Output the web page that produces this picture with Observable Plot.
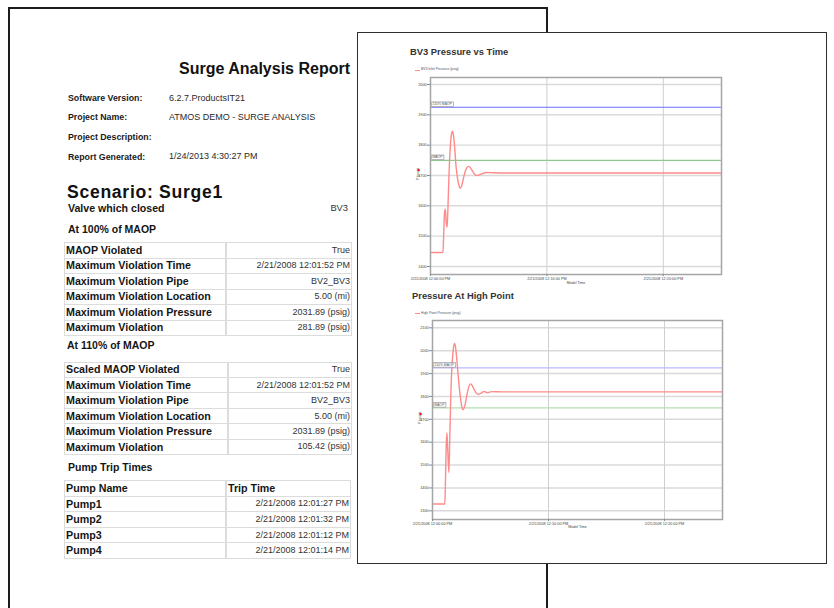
<!DOCTYPE html>
<html><head><meta charset="utf-8">
<script src="https://cdn.jsdelivr.net/npm/d3@7"></script>
<script src="https://cdn.jsdelivr.net/npm/@observablehq/plot@0.6"></script>
<style>
html,body{margin:0;padding:0;background:#fff;}
#root{position:relative;width:834px;height:608px;overflow:hidden;font-family:"Liberation Sans",Arial,sans-serif;}
.abs{position:absolute;white-space:nowrap;}
svg{position:absolute;overflow:visible;}
</style></head><body><div id="root"></div>
<script>
// ---------- data ----------
const reportTitle = "Surge Analysis Report";
const metaLabels = ["Software Version:", "Project Name:", "Project Description:", "Report Generated:"];
const metaValues = ["6.2.7.ProductsIT21", "ATMOS DEMO - SURGE ANALYSIS", "", "1/24/2013 4:30:27 PM"];
const scenarioTitle = "Scenario: Surge1";
const valveLabel = "Valve which closed";
const valveValue = "BV3";
const table100Title = "At 100% of MAOP";
const table100Labels = ["MAOP Violated", "Maximum Violation Time", "Maximum Violation Pipe", "Maximum Violation Location", "Maximum Violation Pressure", "Maximum Violation"];
const table100Values = ["True", "2/21/2008 12:01:52 PM", "BV2_BV3", "5.00 (mi)", "2031.89 (psig)", "281.89 (psig)"];
const table110Title = "At 110% of MAOP";
const table110Labels = ["Scaled MAOP Violated", "Maximum Violation Time", "Maximum Violation Pipe", "Maximum Violation Location", "Maximum Violation Pressure", "Maximum Violation"];
const table110Values = ["True", "2/21/2008 12:01:52 PM", "BV2_BV3", "5.00 (mi)", "2031.89 (psig)", "105.42 (psig)"];
const pumpTitle = "Pump Trip Times";
const pumpHeader = ["Pump Name", "Trip Time"];
const pumpNames = ["Pump1", "Pump2", "Pump3", "Pump4"];
const pumpTimes = ["2/21/2008 12:01:27 PM", "2/21/2008 12:01:32 PM", "2/21/2008 12:01:12 PM", "2/21/2008 12:01:14 PM"];

const chart1Title = "BV3 Pressure vs Time";
const chart1Legend = "BV3 Inlet Pressure (psig)";
const chart2Title = "Pressure At High Point";
const chart2Legend = "High Point Pressure (psig)";
const xLabel = "Model Time";
const yLabel = "P (psig)";
const maop = 1750;
const maop110 = 1925;
const refLines = [{label: "110% MAOP", value: maop110}, {label: "MAOP", value: maop}];
const xTickMinutes = [0, 10, 20];
const xTickLabels = ["2/21/2008 12:00:00 PM", "2/21/2008 12:10:00 PM", "2/21/2008 12:20:00 PM"];
const xEndMinutes = 25;
const yTicks1 = [1400, 1500, 1600, 1700, 1800, 1900, 2000];
const yTicks2 = [1300, 1400, 1500, 1600, 1700, 1800, 1900, 2000, 2100];

// minutes after 12:00:00, pressure psig
const bv3Minutes  = [0, 1.07, 1.12, 1.2, 1.27, 1.35, 1.43, 1.52, 1.62, 1.72, 1.82, 1.89, 1.97, 2.08, 2.2, 2.35, 2.48, 2.58, 2.72, 2.9, 3.1, 3.29, 3.5, 3.75, 4.0, 4.3, 4.8, 5.3, 7, 25];
const bv3Pressure = [1446, 1446, 1490, 1575, 1590, 1545, 1530, 1620, 1735, 1805, 1840, 1846, 1834, 1790, 1728, 1684, 1663, 1658, 1672, 1702, 1724, 1730, 1721, 1706, 1700, 1704, 1710, 1709, 1708, 1708];
const hpMinutes  = [0, 1.06, 1.1, 1.18, 1.24, 1.32, 1.41, 1.5, 1.6, 1.7, 1.8, 1.9, 1.98, 2.1, 2.25, 2.42, 2.54, 2.64, 2.8, 3.0, 3.15, 3.3, 3.5, 3.72, 3.94, 4.2, 4.45, 4.74, 5.1, 6, 25];
const hpPressure = [1330, 1330, 1390, 1580, 1641, 1560, 1467, 1640, 1840, 1950, 2010, 2031.89, 2018, 1960, 1870, 1790, 1752, 1742, 1762, 1815, 1846, 1855, 1840, 1818, 1809, 1815, 1822, 1816, 1821, 1820, 1820];

// ---------- helpers ----------
const root = document.getElementById("root");
function put(parent, s, x, base, size, o = {}) {
  const el = document.createElement("div");
  el.className = "abs";
  el.textContent = s;
  el.style.fontSize = size + "px";
  el.style.lineHeight = size + "px";
  el.style.top = (base - 0.8465 * size) + "px";
  el.style.fontWeight = o.weight || 400;
  el.style.color = o.color || "#222";
  if (o.ls) el.style.letterSpacing = o.ls + "px";
  if (o.anchor === "end") { el.style.left = (x - 600) + "px"; el.style.width = "600px"; el.style.textAlign = "right"; }
  else el.style.left = x + "px";
  parent.appendChild(el);
  return el;
}
function box(parent, x, y, w, h, css) {
  const el = document.createElement("div");
  el.style.position = "absolute";
  el.style.left = x + "px"; el.style.top = y + "px";
  el.style.width = w + "px"; el.style.height = h + "px";
  el.style.boxSizing = "border-box";
  Object.assign(el.style, css);
  parent.appendChild(el);
  return el;
}
function table(labels, values, x0, xd, x1, top, rowH, header) {
  labels.forEach((lab, i) => {
    const y = top + i * rowH;
    box(root, x0, y, xd - x0, rowH + 1, {border: "1px solid #dcdcdc"});
    box(root, xd, y, x1 - xd, rowH + 1, {border: "1px solid #dcdcdc"});
    const c = y + rowH / 2 + 0.5;
    put(root, lab, x0 + 2, c + 3.8, 10.7, {weight: 700, color: "#151515"});
    if (header && i === 0) put(root, values[i], xd + 2, c + 3.8, 10.7, {weight: 700, color: "#151515"});
    else put(root, values[i], x1 - 2, c + 3.2, 9, {color: "#333", anchor: "end"});
  });
}

// ---------- left page ----------
box(root, 8, 7, 540, 700, {border: "2px solid #1c1c1c", background: "#fff"});
put(root, reportTitle, 179, 75, 16, {weight: 700, color: "#111"});
const metaBases = [101.2, 120.6, 140.3, 160];
metaLabels.forEach((l, i) => {
  put(root, l, 68, metaBases[i], 8.8, {weight: 700, color: "#1a1a1a"});
  put(root, metaValues[i], 169, metaBases[i], 9, {color: "#2a2a2a"});
});
put(root, scenarioTitle, 67, 199.3, 17.6, {weight: 700, color: "#111", ls: 0.7});
put(root, valveLabel, 68, 212.3, 10.6, {weight: 700, color: "#151515"});
put(root, valveValue, 348, 212.3, 9.3, {color: "#333", anchor: "end"});
put(root, table100Title, 68, 233, 10.5, {weight: 700, color: "#151515"});
table(table100Labels, table100Values, 64, 226, 352, 242, 15.5);
put(root, table110Title, 67, 349, 10.5, {weight: 700, color: "#151515"});
table(table110Labels, table110Values, 64, 228, 352, 361.5, 15.42);
put(root, pumpTitle, 68, 471, 10.5, {weight: 700, color: "#151515"});
table([pumpHeader[0], ...pumpNames], [pumpHeader[1], ...pumpTimes], 64, 226, 351, 480, 15.6, true);

// ---------- right page ----------
box(root, 357, 32, 470, 532, {border: "1.5px solid #2e2e2e", background: "#fff"});

const t0 = new Date(2008, 1, 21, 12, 0, 0);
const toDate = m => new Date(t0.getTime() + m * 60000);

function makeChart(cfg) {
  const data = cfg.minutes.map((m, i) => ({t: toDate(m), p: cfg.pressure[i]}));
  const xt = xTickMinutes.map(toDate);
  const fmt = d => xTickLabels[xTickMinutes.indexOf(Math.round((d - t0) / 60000))];
  const svg = Plot.plot({
    width: cfg.width, height: cfg.height,
    marginLeft: cfg.ml, marginRight: cfg.mr, marginTop: cfg.mt, marginBottom: cfg.mb,
    style: {fontFamily: "Liberation Sans, Arial, sans-serif", fontSize: "3.8px", color: "#444", background: "transparent", overflow: "visible"},
    x: {type: "time", domain: [toDate(0), toDate(xEndMinutes)]},
    y: {domain: cfg.yDomain},
    marks: [
      Plot.gridY(cfg.yTicks, {stroke: "#dadada", strokeOpacity: 1, strokeWidth: 1.4}),
      Plot.gridX(xt, {stroke: "#cfcfcf", strokeOpacity: 1, strokeWidth: 1}),
      Plot.ruleY([maop110], {stroke: cfg.blue, strokeWidth: 1.2}),
      Plot.ruleY([maop], {stroke: cfg.green, strokeWidth: 1.2}),
      Plot.line(data, {x: "t", y: "p", stroke: "#ff8a8a", strokeWidth: 1.4, curve: "monotone-x"}),
      Plot.frame({stroke: "#a5a5a5", strokeWidth: 1.5}),
      Plot.text(refLines, {frameAnchor: "left", y: "value", text: "label", textAnchor: "start", lineAnchor: "bottom", dx: 2, dy: -2, fontSize: 3.4, fill: "#555"}),
      Plot.axisY(cfg.yTicks, {tickSize: 3, tickPadding: 0.8, tickFormat: d => String(d), label: null, stroke: "#888"}),
      Plot.axisX(xt, {tickSize: 2, tickPadding: 1.2, tickFormat: fmt, label: null, stroke: "#888"}),
      Plot.text([xLabel], {frameAnchor: "bottom", dy: cfg.xLabelDy, fontSize: 3.6, fill: "#444"}),
      Plot.text([yLabel], {frameAnchor: "left", dx: -13, dy: 4, rotate: -90, fontSize: 3.4, fill: "#444"}),
      Plot.text(["\u25A0"], {frameAnchor: "left", dx: -13, dy: -6, fontSize: 4, fill: "#ee1111"})
    ]
  });
  svg.style.left = cfg.left + "px";
  svg.style.top = cfg.top + "px";
  root.appendChild(svg);
  // white boxes behind reference-line labels
  const g = svg.querySelectorAll('g[aria-label="text"]')[0];
  if (g) {
    g.querySelectorAll("text").forEach(t => {
      const b = t.getBBox();
      const r = document.createElementNS("http://www.w3.org/2000/svg", "rect");
      r.setAttribute("x", b.x - 0.7); r.setAttribute("y", b.y - 0.3);
      r.setAttribute("width", b.width + 1.4); r.setAttribute("height", b.height + 0.6);
      r.setAttribute("fill", "#fff"); r.setAttribute("stroke", "#8a8a8a"); r.setAttribute("stroke-width", 0.6);
      if (t.getAttribute("transform")) r.setAttribute("transform", t.getAttribute("transform"));
      g.insertBefore(r, t);
    });
  }
  // title & legend
  put(root, cfg.title, cfg.titleX, cfg.titleBase, 9.4, {weight: 700, color: "#333"});
  box(root, 415, cfg.legendY - 0.5, 5, 1, {background: "#ff8a8a"});
  put(root, cfg.legend, 421, cfg.legendY + 1.2, 3.4, {color: "#555"});
}

makeChart({title: chart1Title, legend: chart1Legend, titleX: 410, titleBase: 55, legendY: 70,
  minutes: bv3Minutes, pressure: bv3Pressure, yTicks: yTicks1, yDomain: [1373.6, 2023],
  left: 395, top: 62, width: 340, height: 230, ml: 35, mr: 14, mt: 15, mb: 18, xLabelDy: 9,
  blue: "#6c6cff", green: "#8fc98f"});
makeChart({title: chart2Title, legend: chart2Legend, titleX: 412, titleBase: 298.5, legendY: 313.7,
  minutes: hpMinutes, pressure: hpPressure, yTicks: yTicks2, yDomain: [1262, 2132],
  left: 397, top: 305, width: 340, height: 235, ml: 35, mr: 15, mt: 15, mb: 21, xLabelDy: 8,
  blue: "#b9b9ff", green: "#b5dfb5"});
</script></body></html>
